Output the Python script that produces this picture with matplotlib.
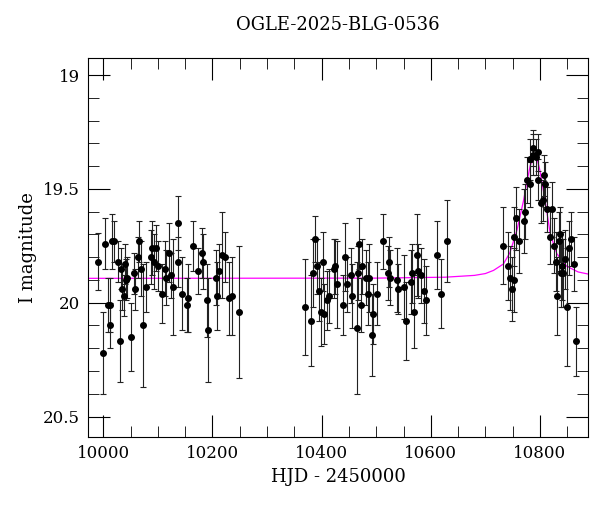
import matplotlib
matplotlib.use("Agg")
import matplotlib.pyplot as plt
from matplotlib.ticker import MultipleLocator

title = "OGLE-2025-BLG-0536"
# (HJD-2450000, I mag, error)
hjd = [9991,10000,10004,10008,10013,10013,10016,10019,10027,10031,10032,10035,10038,10040,10041,10044,
       10051,10056,10059,10063,10066,10070,10072,10079,10088,10090,10092,10097,10100,10108,10113,10115,
       10121,10124,10128,10136,10137,10145,10153,10156,10165,10173,10180,10183,10190,10191,10206,10208,
       10212,10217,10223,10230,10235,10248,
       10370,10381,10385,10388,10391,10396,10399,10402,10404,10410,10413,10422,10425,10429,10440,10442,
       10447,10454,10456,10464,10467,10469,10472,10474,10482,10485,10486,10494,10493,10502,10513,10521,
       10523,10526,10538,10540,10551,10555,10563,10566,10569,10574,10577,10582,10587,10592,10612,10618,10630,
       10733,10742,10745,10749,10752,10753,10756,10761,10770,10772,10777,10781,10782,10787,10788,10793,
       10796,10797,10802,10805,10808,10810,10813,10818,10822,10825,10829,10831,10834,10836,10838,10840,
       10842,10846,10850,10853,10857,10863,10866]
mag = [19.82,20.22,19.74,20.01,20.01,20.10,19.73,19.73,19.82,20.17,19.85,19.94,19.97,19.83,19.90,19.89,
       20.15,19.87,19.94,19.80,19.73,19.85,20.10,19.93,19.80,19.76,19.82,19.76,19.84,19.96,19.85,19.89,
       19.78,19.88,19.93,19.65,19.82,19.96,20.01,19.98,19.75,19.86,19.78,19.82,19.99,20.12,19.89,19.97,
       19.86,19.79,19.80,19.98,19.97,20.04,
       20.02,20.08,19.87,19.72,19.84,19.95,20.04,19.82,20.05,19.99,19.97,19.85,19.84,19.92,20.01,19.80,
       19.92,19.88,19.97,20.11,19.87,19.74,20.01,19.84,19.89,19.96,19.89,20.05,20.14,19.96,19.73,19.87,
       19.82,19.89,19.90,19.94,19.93,20.08,19.91,19.87,20.04,19.79,19.86,19.88,19.95,19.99,19.79,19.96,19.73,
       19.75,19.84,19.89,19.94,19.90,19.71,19.63,19.73,19.64,19.60,19.46,19.48,19.37,19.32,19.35,19.36,
       19.46,19.34,19.56,19.55,19.44,19.48,19.59,19.71,19.59,19.75,19.82,19.97,19.73,19.70,19.87,19.84,
       19.87,19.81,20.02,19.76,19.72,19.83,20.17]
err = [0.125,0.18,0.11,0.12,0.12,0.10,0.12,0.09,0.09,0.18,0.09,0.09,0.09,0.09,0.09,0.09,
       0.15,0.09,0.09,0.09,0.09,0.12,0.27,0.11,0.12,0.12,0.12,0.10,0.11,0.13,0.12,0.12,
       0.13,0.10,0.21,0.12,0.11,0.16,0.12,0.15,0.11,0.10,0.11,0.12,0.16,0.23,0.12,0.15,
       0.12,0.19,0.11,0.16,0.17,0.29,
       0.21,0.20,0.15,0.10,0.12,0.13,0.15,0.13,0.13,0.13,0.12,0.13,0.12,0.19,0.13,0.15,
       0.12,0.12,0.14,0.29,0.12,0.11,0.12,0.12,0.12,0.14,0.15,0.13,0.18,0.14,0.12,0.12,
       0.11,0.12,0.14,0.11,0.14,0.17,0.14,0.13,0.16,0.18,0.12,0.12,0.14,0.15,0.15,0.15,0.18,
       0.17,0.15,0.14,0.14,0.14,0.13,0.14,0.14,0.14,0.12,0.10,0.10,0.09,0.08,0.09,0.08,
       0.09,0.08,0.09,0.09,0.09,0.10,0.10,0.12,0.12,0.12,0.13,0.17,0.13,0.12,0.15,0.15,
       0.15,0.13,0.26,0.12,0.12,0.12,0.15]

model_t = [9960,10500,10626,10680,10700,10715,10733,10745,10758,10770,10776,10782,10787,10791,10796,
           10800,10805,10810,10819,10831,10849,10870,10890]
model_m = [19.893,19.892,19.888,19.880,19.872,19.858,19.83,19.78,19.68,19.55,19.47,19.40,19.365,19.36,19.38,
           19.42,19.49,19.56,19.70,19.785,19.84,19.865,19.875]

plt.rcParams["font.family"] = "DejaVu Serif"
fig = plt.figure(figsize=(6, 5.12), dpi=100)
ax = fig.add_axes([88/600, 1-437/512, 500/600, 379/512])
ax.plot(model_t, model_m, color="magenta", lw=0.9, zorder=1)
ax.errorbar(hjd, mag, yerr=err, fmt="o", color="black", ms=4, elinewidth=0.8,
            ecolor="#222222", capsize=2.5, capthick=0.8, zorder=2)
ax.set_xlim(9972, 10888)
ax.set_ylim(20.59, 18.925)
ax.xaxis.set_major_locator(MultipleLocator(200))
ax.xaxis.set_minor_locator(MultipleLocator(50))
ax.yaxis.set_major_locator(MultipleLocator(0.5))
ax.yaxis.set_minor_locator(MultipleLocator(0.1))
ax.yaxis.set_major_formatter(matplotlib.ticker.FuncFormatter(lambda v, p: f"{v:g}"))
ax.tick_params(which="both", direction="in", top=True, right=True, labelsize=12)
ax.tick_params(which="major", length=16, pad=6)
ax.tick_params(which="minor", length=8)
ax.set_xlabel("HJD - 2450000", fontsize=13)
ax.set_ylabel("I magnitude", fontsize=13)
ax.set_title(title, fontsize=13, pad=20)
fig.savefig("out.png", dpi=100)
